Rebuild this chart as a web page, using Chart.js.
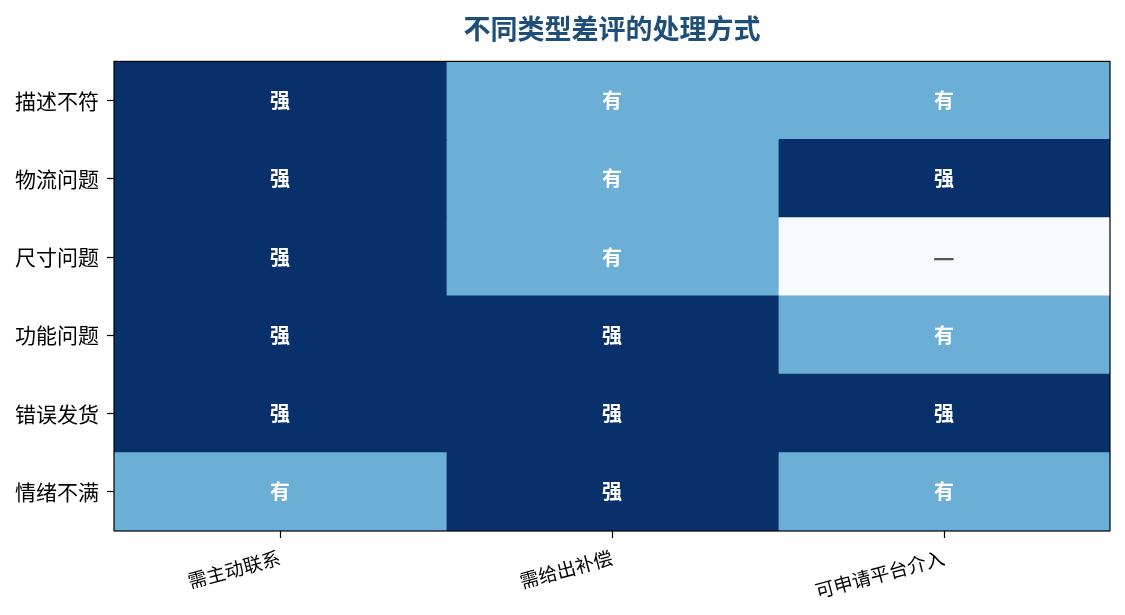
<!DOCTYPE html>
<html lang="zh">
<head>
  <meta charset="UTF-8">
  <title>不同类型差评的处理方式</title>
  <script src="https://cdn.jsdelivr.net/npm/chart.js"></script>
  <style>
    html, body { margin: 0; padding: 0; background: #fff; }
    #wrap { width: 1125px; height: 615px; }
  </style>
</head>
<body>
  <div id="wrap"><canvas id="heatmap"></canvas></div>
  <script>
    const rows = ['描述不符', '物流问题', '尺寸问题', '功能问题', '错误发货', '情绪不满'];
    const cols = ['需主动联系', '需给出补偿', '可申请平台介入'];
    // one column of levels per action, top row first
    const colLevels = [
      ['强', '强', '强', '强', '强', '有'],
      ['有', '有', '有', '强', '强', '强'],
      ['有', '强', '—', '有', '强', '有']
    ];
    const levelColor = { '强': '#08306b', '有': '#6baed6', '—': '#f7fbff' };
    const levelText = { '强': '#ffffff', '有': '#ffffff', '—': '#555555' };
    const font = '"Noto Sans CJK SC", "Noto Sans", sans-serif';

    // cell labels
    const cellText = {
      id: 'cellText',
      afterDatasetsDraw(chart) {
        const ctx = chart.ctx;
        ctx.save();
        ctx.textAlign = 'center';
        ctx.textBaseline = 'middle';
        chart.data.datasets.forEach((ds, di) => {
          chart.getDatasetMeta(di).data.forEach((bar, i) => {
            const lv = colLevels[di][i];
            const p = bar.getCenterPoint();
            ctx.fillStyle = levelText[lv];
            ctx.font = (lv === '—' ? 'bold 24px ' : 'bold 20px ') + font;
            ctx.fillText(lv, p.x, p.y);
          });
        });
        ctx.restore();
      }
    };

    // frame around the plot
    const frame = {
      id: 'frame',
      afterDatasetsDraw(chart) {
        const a = chart.chartArea;
        const ctx = chart.ctx;
        ctx.save();
        ctx.strokeStyle = '#000';
        ctx.lineWidth = 1.2;
        ctx.strokeRect(a.left, a.top, a.right - a.left, a.bottom - a.top);
        ctx.restore();
      }
    };

    new Chart(document.getElementById('heatmap'), {
      type: 'bar',
      data: {
        labels: rows,
        datasets: cols.map((c, ci) => ({
          label: c,
          data: rows.map(() => 1),
          backgroundColor: colLevels[ci].map(lv => levelColor[lv]),
          borderWidth: 0,
          inflateAmount: 0.6,
          barPercentage: 1,
          categoryPercentage: 1
        }))
      },
      options: {
        indexAxis: 'y',
        responsive: true,
        maintainAspectRatio: false,
        animation: false,
        layout: { padding: { left: 0, right: 15, top: 8, bottom: 0 } },
        plugins: {
          legend: { display: false },
          tooltip: { enabled: false },
          title: {
            display: true,
            fullSize: false,
            text: '不同类型差评的处理方式',
            color: '#1f4e79',
            font: { family: font, size: 27, weight: 'bold' },
            padding: { top: 5, bottom: 16 }
          }
        },
        scales: {
          x: {
            type: 'linear',
            stacked: true,
            min: 0,
            max: 3,
            display: false
          },
          xl: {
            type: 'category',
            axis: 'x',
            position: 'bottom',
            labels: cols,
            offset: true,
            grid: { offset: false, drawOnChartArea: false, color: '#000', tickLength: 7, tickWidth: 1.2 },
            border: { display: false },
            ticks: {
              color: '#000',
              font: { family: font, size: 19 },
              minRotation: 15,
              maxRotation: 15,
              padding: 8
            },
            afterFit(scale) { scale.height = 84; }
          },
          y: {
            stacked: true,
            offset: true,
            grid: { offset: false, drawOnChartArea: false, color: '#000', tickLength: 7, tickWidth: 1.2 },
            border: { display: false },
            ticks: {
              color: '#000',
              font: { family: font, size: 21 },
              padding: 8
            },
            afterFit(scale) { scale.width = 114; }
          }
        }
      },
      plugins: [cellText, frame]
    });
  </script>
</body>
</html>
